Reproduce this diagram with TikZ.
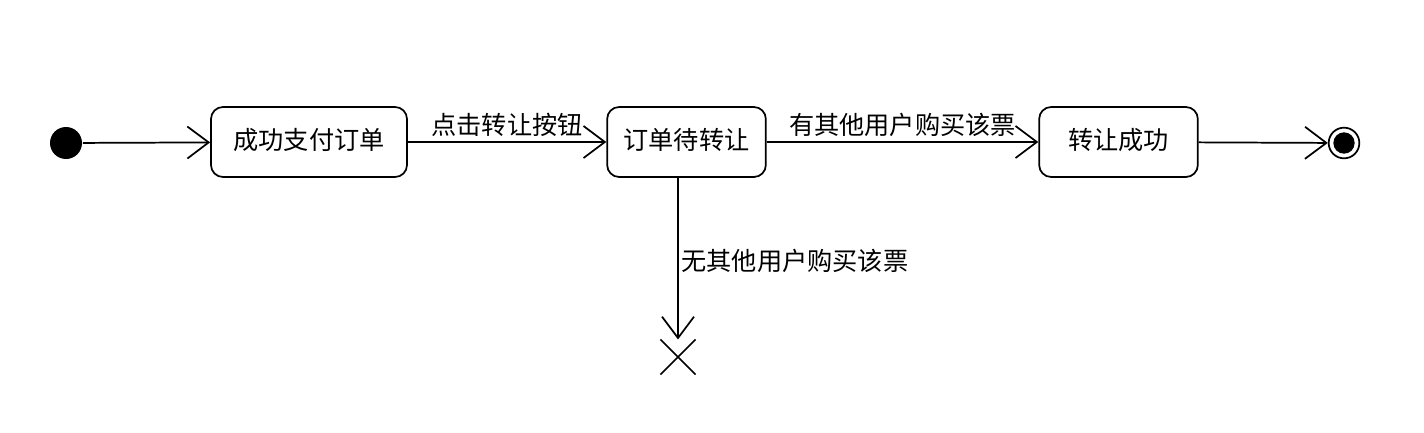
\documentclass[tikz,border=0pt]{standalone}
\usepackage{fontspec}
\setmainfont{Noto Sans CJK SC}
\usetikzlibrary{arrows.meta}
\usetikzlibrary{shapes.misc}

\begin{document}
\begin{tikzpicture}[
        x=0.75pt, y=-0.75pt,
        line width=1.3pt,
        font=\fontsize{18.9}{22}\selectfont,
        state/.style={draw, rounded corners=9pt, minimum height=52.5pt, text height=14pt, text depth=3pt},
        flow/.style={-{Straight Barb[length=16pt, width=24pt, line width=1.3pt]}},
        lbl/.style={inner sep=2pt, text height=14pt, text depth=3pt}
    ]
    \useasboundingbox (0,0) rectangle (1424,432);
    \node (start) [circle, fill, inner sep=0pt, minimum size=24pt] at (66,143) {};
    \node (paid) [state, minimum width=147pt] at (309,142) {成功支付订单};
    \node (pending) [state, minimum width=119pt] at (686.5,142) {订单待转让};
    \node (done) [state, minimum width=119pt] at (1118.5,142) {转让成功};
    \node (final) [circle, draw, inner sep=0pt, minimum size=23pt] at (1344,143) {};
    \node [circle, fill, inner sep=0pt, minimum size=16pt] at (final) {};
    \node (cross) [cross out, draw, inner sep=0pt, minimum size=25pt, line width=1.3pt] at (678,357) {};

    \draw [flow] (start) -- (paid);
    \draw [flow] (paid) -- node [lbl, above] {点击转让按钮} (pending);
    \draw [flow] (pending) -- node [lbl, above] {有其他用户购买该票} (done);
    \draw [flow] (done) -- (final);
    \draw [flow] (pending.south -| cross) -- node [lbl, right, pos=0.53] {无其他用户购买该票} (cross.north);
\end{tikzpicture}
\end{document}
